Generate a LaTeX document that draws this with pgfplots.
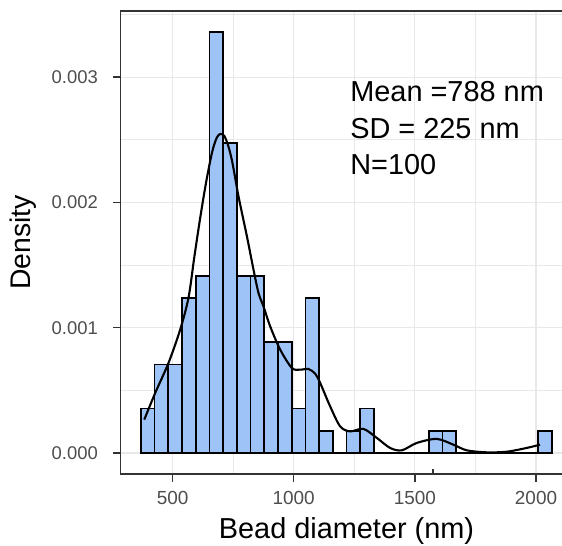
\documentclass[border=0pt]{standalone}
\usepackage{pgfplots}
\pgfplotsset{compat=1.18}
\usepackage{fontspec}
\setmainfont{Liberation Sans}
\definecolor{barblue}{HTML}{9DC3F7}
\definecolor{gridgray}{HTML}{E8E8E8}
\definecolor{framegray}{HTML}{333333}
\definecolor{ticklab}{HTML}{4D4D4D}
\pgfplotstableread{
x y
369.40 0.000354
425.95 0.000707
482.50 0.000707
539.05 0.001238
595.60 0.001415
652.15 0.003360
708.70 0.002476
765.25 0.001415
821.80 0.001415
878.35 0.000884
934.90 0.000884
991.45 0.000354
1048.00 0.001238
1104.55 0.000177
1161.10 0
1217.65 0.000177
1274.20 0.000354
1330.75 0
1387.30 0
1443.85 0
1500.40 0
1556.95 0.000177
1613.50 0.000177
1670.05 0
1726.60 0
1783.15 0
1839.70 0
1896.25 0
1952.80 0
2009.35 0.000177
2065.90 0.000177
}\histdata
\pgfplotstableread{
x y
383.1 0.000266
428.5 0.000480
483.4 0.000720
531.6 0.000986
565.9 0.001241
589.4 0.001560
614.1 0.001878
638.9 0.002166
663.6 0.002405
682.2 0.002516
696.6 0.002546
713.1 0.002532
729.6 0.002452
746.1 0.002325
772.1 0.002048
806.8 0.001729
834.0 0.001463
854.6 0.001277
875.2 0.001170
902.9 0.001010
944.1 0.000825
992.4 0.000678
1026.6 0.000665
1060.8 0.000670
1088.5 0.000633
1109.1 0.000559
1150.3 0.000372
1191.6 0.000212
1232.8 0.000172
1287.7 0.000192
1343.0 0.000120
1397.8 0.000040
1446.1 0.000021
1508.0 0.000080
1590.4 0.000112
1658.9 0.000066
1714.2 0.000021
1796.7 0.000005
1879.2 0.000010
1961.7 0.000040
2016.6 0.000066
}\densdata
\begin{document}
\begin{tikzpicture}
\useasboundingbox (-120.5bp,-72bp) rectangle (441.5bp,474bp);
\begin{axis}[
  at={(0,0)}, anchor=south west,
  scale only axis, width=441bp, height=463bp,
  xmin=285, xmax=2105.2, ymin=-0.000168, ymax=0.003528,
  axis line style={draw=none},
  xtick={500,1000,1500,2000}, xticklabels={500,1000,1500,2000},
  ytick={0,0.001,0.002,0.003}, yticklabels={0.000,0.001,0.002,0.003},
  minor xtick={750,1250,1750}, minor ytick={0.0005,0.0015,0.0025,0.0035},
  grid=both,
  major grid style={draw=gridgray, line width=1.2bp},
  minor grid style={draw=gridgray, line width=0.8bp},
  tick align=outside, xtick pos=left, ytick pos=left,
  major tick length=7.5bp, minor tick length=0pt,
  tick style={draw=framegray, line width=1.3bp},
  xticklabel style={font=\fontsize{19}{21}\selectfont, text=ticklab, anchor=base, inner sep=0pt, yshift=-23bp},
  yticklabel style={font=\fontsize{18.5}{20}\selectfont, text=ticklab, anchor=east, inner sep=0pt, xshift=-15bp},
  xlabel={Bead diameter (nm)},
  xlabel style={font=\fontsize{29}{31}\selectfont, at={(rel axis cs:0.5125,0)}, anchor=base, inner sep=0pt, yshift=-64.3bp},
  ylabel={Density},
  ylabel style={font=\fontsize{28.5}{30}\selectfont, at={(rel axis cs:0,0.5)}, anchor=center, inner sep=0pt, yshift=97bp},
]
\addplot[ybar interval, fill=barblue, draw=black, line width=1.7bp] table[x=x, y=y] {\histdata};
\addplot[smooth, black, line width=2.1bp] table[x=x, y=y] {\densdata};
\addplot[framegray, line width=1.3bp] coordinates {(1575,-0.000168) (1575,-0.000125)};
\node[anchor=base west, inner sep=0pt, font=\fontsize{29}{31}\selectfont] at (axis cs:1232.8,0.002806) {Mean =788 nm};
\node[anchor=base west, inner sep=0pt, font=\fontsize{29}{31}\selectfont] at (axis cs:1232.8,0.002514) {SD = 225 nm};
\node[anchor=base west, inner sep=0pt, font=\fontsize{29}{31}\selectfont] at (axis cs:1232.8,0.002221) {N=100};
\end{axis}
\draw[framegray, line width=1.8bp] ([xshift=6bp]current axis.north east) -- (current axis.north west) -- (current axis.south west) -- ([xshift=6bp]current axis.south east);
\end{tikzpicture}
\end{document}
